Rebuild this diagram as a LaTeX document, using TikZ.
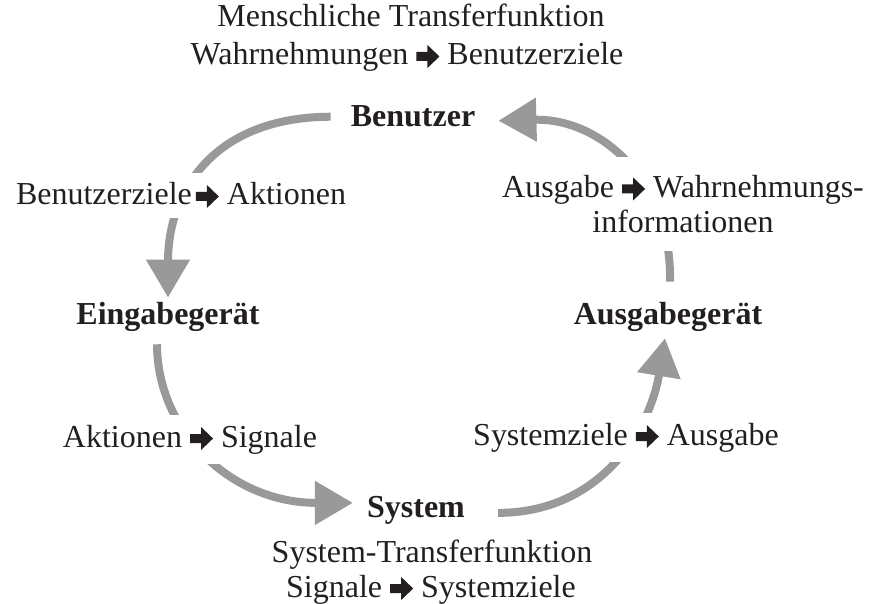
\documentclass[tikz,border=0pt]{standalone}
\usepackage{fontspec}
\setmainfont{Liberation Serif}
\usetikzlibrary{arrows.meta}
\definecolor{arcgray}{HTML}{999999}
\definecolor{ink}{HTML}{231F20}
\newcommand{\ra}{\tikz[baseline=0pt]{\fill[ink] (0pt,4pt) -- (11pt,4pt) -- (11pt,-3pt) -- (23pt,8.5pt) -- (11pt,20pt) -- (11pt,13pt) -- (0pt,13pt) -- cycle;}}
\tikzset{
  txt/.style={anchor=base, text=ink, font=\fontsize{32}{38}\selectfont, inner sep=2pt},
  head/.style={txt, font=\fontsize{32}{38}\selectfont\bfseries, inner xsep=4pt, inner ysep=4pt},
  lab/.style={txt, fill=white, inner xsep=4pt, inner ysep=10pt},
  arr/.style={draw=arcgray, line width=8pt, -{Triangle[width=42pt,length=38pt]}}
}
\begin{document}
\begin{tikzpicture}[x=1pt,y=-1pt]
\useasboundingbox (0,0) rectangle (873,604);
% titles
\node[txt] (t1) at (411,27) {Menschliche Transferfunktion};
\node[txt] (t2) at (407,65) {Wahrnehmungen \ra{} Benutzerziele};
\node[txt] (b1) at (432,562) {System-Transferfunktion};
\node[txt] (b2) at (431,597) {Signale \ra{} Systemziele};
% main nodes
\node[head, inner xsep=20pt] (ben) at (413,127) {Benutzer};
\node[head] (ein) at (168,324) {Eingabegerät};
\node[head] (sys) at (416,517) {System};
\node[head] (aus) at (668,324) {Ausgabegerät};
% arcs
\draw[arr] (ben.west) .. controls (215,117) and (168,190) .. (ein.north);
\draw[arr] ([shift={(-11,9)}]ein.south) .. controls (157,430) and (230,503) .. ([shift={(-10,-7)}]sys.west);
\draw[arr] ([shift={(29,3)}]sys.east) .. controls (600,513) and (650,430) .. ([shift={(-3,3)}]aus.south);
\draw[arr] ([shift={(2,-16)}]aus.north) .. controls (672,180) and (600,118) .. ([shift={(3,4)}]ben.east);
% labels on the arcs
\node[lab] (l1) at (181,205) {Benutzerziele\hspace{4pt}\ra{} Aktionen};
\node[lab] (l2) at (190,447) {Aktionen \ra{} Signale};
\node[lab] (l3) at (626,445) {Systemziele \ra{} Ausgabe};
\node[lab, anchor=center, align=center, font=\fontsize{32}{35}\selectfont, inner ysep=18pt] (l4) at (683,204) {Ausgabe \ra{} Wahrnehmungs-\\informationen};
\end{tikzpicture}
\end{document}
